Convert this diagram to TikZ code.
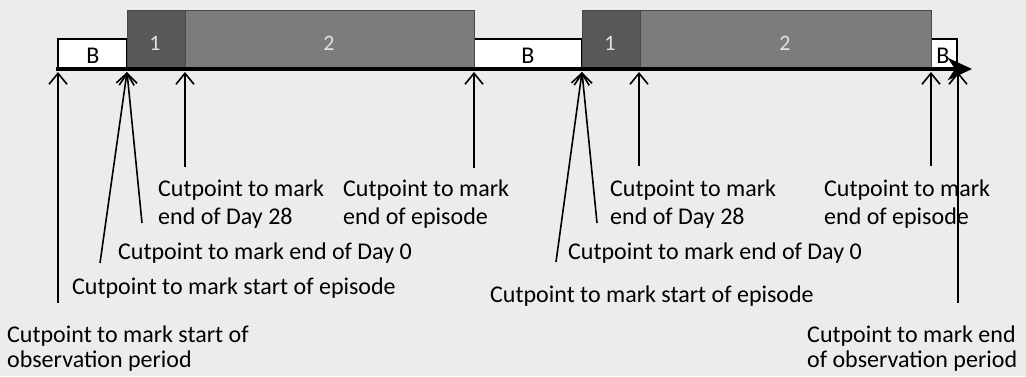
\documentclass[tikz,border=0pt]{standalone}
\usepackage{fontspec}
\setmainfont{Carlito}
\usetikzlibrary{arrows.meta}
\definecolor{paper}{RGB}{236,236,236}
\definecolor{dayzero}{RGB}{88,88,88}
\definecolor{followup}{RGB}{124,124,124}
\definecolor{phaseedge}{RGB}{72,72,72}
\definecolor{phasetext}{RGB}{226,226,226}
\begin{document}
\begin{tikzpicture}[x=1pt,y=-1pt,
  lbl/.style={anchor=north west, inner sep=0pt, align=left, font=\fontsize{24}{28}\selectfont},
  lblobs/.style={lbl, font=\fontsize{24}{25}\selectfont},
  cut/.style={line width=1.6pt, -{Straight Barb[length=11pt,width=18pt,line width=1.6pt]}},
  timeline/.style={line width=4.5pt, -{Stealth[length=24pt,width=22pt,inset=7pt]}},
  basebox/.style={draw=black, line width=1.4pt, fill=white},
  phaseA/.style={fill=dayzero, draw=phaseedge, line width=1pt},
  phaseB/.style={fill=followup, draw=phaseedge, line width=1pt},
  boxtxt/.style={inner sep=0pt, font=\fontsize{24}{26}\selectfont},
  phasetxt/.style={boxtxt, text=phasetext, font=\fontsize{22}{24}\selectfont}
]
% page
\fill[paper] (0,0) rectangle (1026,376);

% baseline (B) periods
\draw[basebox] (58,39) rectangle (127,69);
\draw[basebox] (474,39) rectangle (582,69);
\draw[basebox] (931,39) rectangle (957,69);

% episode phases: 1 = up to end of Day 0, 2 = follow-up
\draw[phaseB] (185,10) rectangle (474,70);
\draw[phaseA] (127,10) rectangle (185,70);
\draw[phaseB] (640,10) rectangle (931,70);
\draw[phaseA] (582,10) rectangle (640,70);

\node[boxtxt] (bA) at (93,55.5) {B};
\node[boxtxt] (bB) at (528,55.5) {B};
\node[boxtxt] (bC) at (943,55.5) {B};
\node[phasetxt] (p1a) at (155,43.5) {1};
\node[phasetxt] (p2a) at (329,43.5) {2};
\node[phasetxt] (p1b) at (610,43.5) {1};
\node[phasetxt] (p2b) at (785,43.5) {2};

% time axis
\coordinate (axisstart) at (56,69);
\coordinate (axisend) at (972,69);
\draw[timeline] (axisstart) -- (axisend);

% cutpoint tips on the axis
\coordinate (obsstart) at (58,72);
\coordinate (ep1start) at (127,72);
\coordinate (ep1day) at (185,72);
\coordinate (ep1end) at (474,72);
\coordinate (ep2start) at (582,72);
\coordinate (ep2day) at (639,72);
\coordinate (ep2end) at (931,72);
\coordinate (obsend) at (958,72);

% labels
\node[lbl] (l28a) at (158,180) {Cutpoint to mark\\end of Day 28};
\node[lbl] (lenda) at (343,180) {Cutpoint to mark\\end of episode};
\node[lbl] (l0a) at (118,243) {Cutpoint to mark end of Day 0};
\node[lbl] (lsta) at (72,278) {Cutpoint to mark start of episode};
\node[lblobs] (lobs) at (7,326) {Cutpoint to mark start of\\observation period};

\node[lbl] (l28b) at (610,180) {Cutpoint to mark\\end of Day 28};
\node[lbl] (lendb) at (824,180) {Cutpoint to mark\\end of episode};
\node[lbl] (l0b) at (568,243) {Cutpoint to mark end of Day 0};
\node[lbl] (lstb) at (490,286) {Cutpoint to mark start of episode};
\node[lblobs] (lobe) at (807,326) {Cutpoint to mark end\\of observation period};

% pointer feet
\coordinate (fobsstart) at (58,303);
\coordinate (fep1start) at (100,263);
\coordinate (fep1zero) at (142,223);
\coordinate (fep1day) at (185,167);
\coordinate (fep1end) at (474,168);
\coordinate (fep2start) at (556,262);
\coordinate (fep2zero) at (597,223);
\coordinate (fep2day) at (639,166);
\coordinate (fep2end) at (931,166);
\coordinate (fobsend) at (958,303);

\draw[cut] (fobsstart) -- (obsstart);
\draw[cut] (fep1start) -- (ep1start);
\draw[cut] (fep1zero) -- (ep1start);
\draw[cut] (fep1day) -- (ep1day);
\draw[cut] (fep1end) -- (ep1end);
\draw[cut] (fep2start) -- (ep2start);
\draw[cut] (fep2zero) -- (ep2start);
\draw[cut] (fep2day) -- (ep2day);
\draw[cut] (fep2end) -- (ep2end);
\draw[cut] (fobsend) -- (obsend);
\end{tikzpicture}
\end{document}
